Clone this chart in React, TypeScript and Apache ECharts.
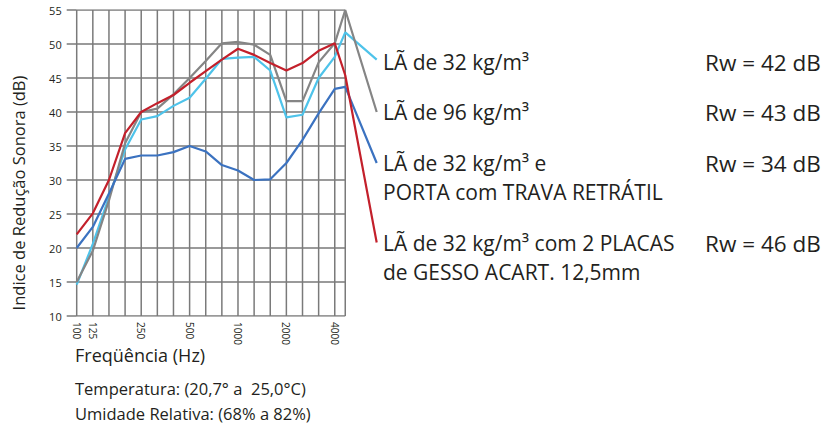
import React, { useEffect, useRef } from "react";
import * as echarts from "echarts";

// 1/3-octave bands (Hz)
const bandLabels = ["100", "125", "160", "200", "250", "315", "400", "500", "630", "800", "1000", "1250", "1600", "2000", "2500", "3150", "4000", "5000"];
const shownLabels = ["100", "125", "250", "500", "1000", "2000", "4000"];
// axis position of each band (last band is compressed in the original drawing)
const bandPos = [0, 1, 2, 3, 4, 5, 6, 7, 8, 9, 10, 11, 12, 13, 14, 15, 16, 16.65];
const leaderX = 18.6;
const yTicks = [10, 15, 20, 25, 30, 35, 40, 45, 50, 55];

const la32 = [14.6, 20.6, 27.5, 34.5, 38.9, 39.4, 40.9, 42.1, 44.9, 47.8, 48.0, 48.1, 46.1, 39.2, 39.6, 45.0, 48.1, 51.7];
const la96 = [15.0, 19.6, 27.0, 35.4, 40.0, 40.5, 42.6, 45.0, 47.5, 50.1, 50.3, 49.9, 48.4, 41.6, 41.6, 47.3, 50.1, 55.0];
const la32Porta = [20.0, 23.1, 28.0, 33.1, 33.6, 33.6, 34.1, 35.0, 34.2, 32.2, 31.4, 30.0, 30.1, 32.5, 35.9, 39.8, 43.4, 43.7];
const la32Gesso = [22.0, 25.1, 30.0, 36.9, 40.0, 41.3, 42.5, 44.3, 46.0, 47.7, 49.3, 48.4, 47.2, 46.1, 47.2, 49.0, 50.1, 45.4];
// where the leader line of each curve ends (next to its label)
const leaderEnds = [47.7, 40.0, 32.5, 20.8];

const seriesNames = ["LÃ de 32 kg/m³", "LÃ de 96 kg/m³", "LÃ de 32 kg/m³ e\nPORTA com TRAVA RETRÁTIL", "LÃ de 32 kg/m³ com 2 PLACAS\nde GESSO ACART. 12,5mm"];
const rwValues = ["Rw = 42 dB", "Rw = 43 dB", "Rw = 34 dB", "Rw = 46 dB"];
const seriesColors = ["#4ec3ea", "#858585", "#3b72c0", "#c3202b"];

const yTitle = "Indice de Redução Sonora (dB)";
const xTitle = "Freqüência (Hz)";
const notes = ["Temperatura: (20,7° a  25,0°C)", "Umidade Relativa: (68% a 82%)"];

const FONT = "'Open Sans', sans-serif";
const TXT = "#231f20";
const GRID = "#7a7a7a";

export default function App() {
  const ref = useRef<HTMLDivElement>(null);
  useEffect(() => {
    if (!ref.current) return;
    const chart = echarts.init(ref.current, null, { renderer: "svg" });
    const allValues = [la32, la96, la32Porta, la32Gesso];
    const order = [1, 0, 2, 3];
    const xMaxBand = bandPos[bandPos.length - 1];
    const yMin = yTicks[0];
    const yMax = yTicks[yTicks.length - 1];

    // grid frame drawn as a line series through the axes' scales (vertical + horizontal rules)
    const gridPts: any[] = [];
    bandPos.forEach((x) => {
      gridPts.push([x, yMin], [x, yMax], [null, null]);
    });
    yTicks.forEach((y) => {
      gridPts.push([0, y], [xMaxBand, y], [null, null]);
    });

    const series: any[] = [
      {
        type: "line",
        name: "grid",
        data: gridPts,
        connectNulls: false,
        silent: true,
        showSymbol: false,
        symbol: "none",
        z: 1,
        lineStyle: { color: GRID, width: 1.5 },
        itemStyle: { color: GRID },
      },
    ];
    order.forEach((k) =>
      series.push({
        type: "line",
        name: seriesNames[k],
        data: allValues[k].map((v, i) => [bandPos[i], v]).concat([[leaderX, leaderEnds[k]]]),
        showSymbol: false,
        symbol: "none",
        clip: false,
        lineStyle: { color: seriesColors[k], width: 2.2 },
        itemStyle: { color: seriesColors[k] },
        z: 3 + k,
      })
    );
    const legendY = [62, 112, 163, 243];
    const graphic: any[] = [];
    seriesNames.forEach((n, k) => {
      n.split("\n").forEach((line, j) => {
        graphic.push({
          type: "text",
          x: 383,
          y: legendY[k] + j * 29,
          style: { text: line, font: `21px ${FONT}`, fill: TXT, verticalAlign: "middle" },
        });
      });
      graphic.push({
        type: "text",
        x: 705,
        y: legendY[k],
        style: { text: rwValues[k], font: `22.5px ${FONT}`, fill: TXT, verticalAlign: "middle" },
      });
    });
    graphic.push({
      type: "text",
      x: 18,
      y: 193,
      rotation: Math.PI / 2,
      style: { text: yTitle, font: `16.5px ${FONT}`, fill: TXT, align: "center", verticalAlign: "middle" },
    });
    graphic.push({
      type: "text",
      x: 75,
      y: 355,
      style: { text: xTitle, font: `18px ${FONT}`, fill: TXT, verticalAlign: "middle" },
    });
    notes.forEach((t, i) => {
      graphic.push({
        type: "text",
        x: 75,
        y: 388 + i * 25,
        style: { text: t, font: `16.5px ${FONT}`, fill: TXT, verticalAlign: "middle" },
      });
    });

    chart.setOption({
      animation: false,
      backgroundColor: "#ffffff",
      grid: { left: 76.7, right: 838 - 376.7, top: 10, bottom: 114, show: false, containLabel: false },
      xAxis: {
        type: "value",
        min: 0,
        max: leaderX,
        interval: 1,
        axisLine: { show: false },
        axisTick: { show: false },
        splitLine: { show: false },
        axisLabel: {
          rotate: -90,
          margin: 6,
          fontSize: 10,
          fontFamily: FONT,
          color: TXT,
          showMaxLabel: false,
          formatter: (val: number) => {
            const i = Math.round(val);
            if (Math.abs(val - i) > 0.01) return "";
            const lab = bandLabels[i];
            return lab && shownLabels.includes(lab) ? lab : "";
          },
        },
      },
      yAxis: {
        type: "value",
        min: 10,
        max: 55,
        interval: 5,
        axisLine: { show: false },
        axisTick: { show: true, length: 10, lineStyle: { color: GRID, width: 1.5 } },
        splitLine: { show: false },
        axisLabel: { margin: 15, fontSize: 11, fontFamily: FONT, color: TXT },
      },
      series,
      graphic,
    });
    return () => chart.dispose();
  }, []);
  return <div ref={ref} style={{ position: "fixed", left: 0, top: 0, width: 838, height: 430, background: "#fff" }} />;
}
